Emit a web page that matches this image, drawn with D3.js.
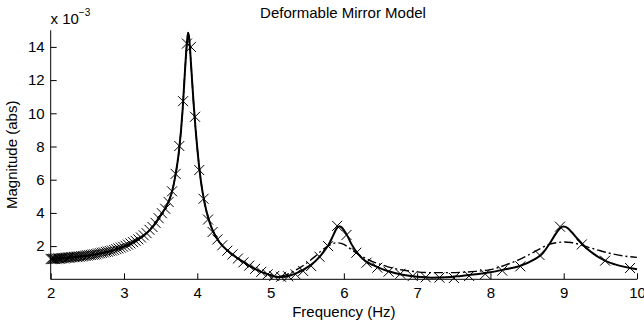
<!DOCTYPE html>
<html>
<head>
<meta charset="utf-8">
<script src="https://cdn.jsdelivr.net/npm/d3@7"></script>
<style>
	body { margin: 0; background: #fff; }
	text { font-family: 'Liberation Sans', Arial, Helvetica, sans-serif; fill: #000; }
</style>
</head>
<body>
<script>
// magnitudes are in units of 1e-3 (axis shows "x 10^-3")

// measured points (x markers)
const freq = [
	2.000, 2.0145, 2.0292, 2.0441, 2.0592, 2.0746, 2.0902, 2.1060, 2.1221, 2.1384,
	2.1549, 2.1718, 2.1889, 2.2062, 2.2238, 2.2418, 2.2600, 2.2785, 2.2973, 2.3165,
	2.3359, 2.3557, 2.3758, 2.3963, 2.4171, 2.4383, 2.4598, 2.4818, 2.5041, 2.5269,
	2.5500, 2.5736, 2.5977, 2.6222, 2.6471, 2.6726, 2.6985, 2.7249, 2.7519, 2.7794,
	2.8074, 2.8360, 2.8652, 2.8951, 2.9255, 2.9566, 2.9884, 3.0208, 3.0540, 3.0879,
	3.1226, 3.1580, 3.1943, 3.2314, 3.2694, 3.3083, 3.3481, 3.3889, 3.4306, 3.4735,
	3.5174, 3.5625, 3.6087, 3.6561, 3.7048, 3.7548, 3.8062, 3.8590, 3.9133, 3.9691,
	4.0266, 4.0857, 4.1466, 4.2094, 4.2741, 4.3408, 4.4096, 4.4806, 4.5539, 4.6297,
	4.7081, 4.7892, 4.8730, 4.9600, 5.0500, 5.1434, 5.2403, 5.3409, 5.4454, 5.5541,
	5.6673, 5.7852, 5.9081, 6.0363, 6.1702, 6.3101, 6.4566, 6.6100, 6.7709, 6.9399,
	7.1174, 7.3044, 7.5013, 7.7092, 7.9290, 8.1616, 8.4083, 8.6704, 8.9493, 9.2469,
	9.5648, 9.9054
];
const measured = [
	1.22, 1.23, 1.22, 1.24, 1.23, 1.25, 1.24, 1.26, 1.25, 1.27,
	1.27, 1.29, 1.28, 1.30, 1.30, 1.31, 1.32, 1.33, 1.33, 1.35,
	1.35, 1.36, 1.37, 1.37, 1.39, 1.40, 1.41, 1.43, 1.44, 1.46,
	1.47, 1.49, 1.50, 1.52, 1.55, 1.57, 1.60, 1.62, 1.65, 1.67,
	1.70, 1.73, 1.77, 1.82, 1.86, 1.91, 1.96, 2.02, 2.09, 2.16,
	2.24, 2.32, 2.41, 2.52, 2.65, 2.78, 2.98, 3.15, 3.40, 3.68,
	3.98, 4.25, 4.66, 5.30, 6.35, 8.03, 10.73, 14.2, 14.0, 9.79,
	6.58, 4.85, 3.60, 2.85, 2.40, 2.05, 1.72, 1.50, 1.25, 1.02,
	0.82, 0.63, 0.45, 0.30, 0.20, 0.15, 0.18, 0.30, 0.50, 0.80,
	1.36, 2.00, 3.22, 2.67, 1.60, 1.00, 0.70, 0.46, 0.33, 0.20,
	0.12, 0.10, 0.08, 0.20, 0.32, 0.52, 0.78, 1.46, 3.17, 2.10,
	1.12, 0.68
];

// solid model
const modelF = [
	2.0, 2.2, 2.4, 2.6, 2.8, 3.0, 3.1, 3.2, 3.3, 3.4, 3.5, 3.6, 3.65, 3.7, 3.75, 3.8,
	3.83, 3.86, 3.875, 3.89, 3.92, 3.95, 4.0, 4.05, 4.1, 4.15, 4.2, 4.3, 4.4, 4.5, 4.6,
	4.7, 4.8, 4.9, 5.0, 5.1, 5.2, 5.3, 5.4, 5.5, 5.6, 5.7, 5.8, 5.85, 5.9, 5.94, 5.98,
	6.05, 6.1, 6.2, 6.3, 6.4, 6.5, 6.6, 6.8, 7.0, 7.2, 7.4, 7.6, 7.8, 8.0, 8.2, 8.4,
	8.6, 8.7, 8.8, 8.9, 8.95, 9.0, 9.05, 9.1, 9.2, 9.3, 9.4, 9.5, 9.6, 9.7, 9.8, 9.9, 10.0
];
const modelV = [
	1.22, 1.29, 1.37, 1.50, 1.68, 1.98, 2.18, 2.42, 2.75, 3.20, 3.85, 4.60, 5.20, 6.20, 7.70, 10.2,
	12.4, 14.3, 14.85, 14.5, 12.6, 10.6, 7.9, 5.9, 4.6, 3.7, 3.05, 2.25, 1.78, 1.42, 1.12,
	0.84, 0.60, 0.40, 0.24, 0.14, 0.16, 0.28, 0.46, 0.72, 1.05, 1.52, 2.15, 2.6, 3.05, 3.2, 3.08,
	2.6, 2.15, 1.5, 1.08, 0.85, 0.66, 0.5, 0.27, 0.15, 0.1, 0.12, 0.2, 0.3, 0.42, 0.6, 0.8,
	1.2, 1.5, 2.1, 2.8, 3.08, 3.18, 3.1, 2.88, 2.38, 1.92, 1.56, 1.27, 1.05, 0.9, 0.78, 0.68, 0.6
];

// dash-dot model
const fitF = [
	2.0, 2.4, 2.8, 3.0, 3.2, 3.4, 3.5, 3.6, 3.65, 3.7, 3.75, 3.8, 3.83, 3.86, 3.875, 3.89,
	3.92, 3.95, 4.0, 4.05, 4.1, 4.15, 4.2, 4.3, 4.4, 4.5, 4.6, 4.7, 4.8, 4.9, 5.0, 5.1,
	5.2, 5.3, 5.4, 5.5, 5.6, 5.7, 5.8, 5.9, 6.0, 6.1, 6.2, 6.3, 6.4, 6.5, 6.6, 6.8, 7.0,
	7.2, 7.4, 7.6, 7.8, 8.0, 8.2, 8.4, 8.6, 8.8, 8.9, 9.0, 9.1, 9.2, 9.3, 9.4, 9.5, 9.6,
	9.7, 9.8, 9.9, 10.0
];
const fitV = [
	1.22, 1.37, 1.68, 1.98, 2.42, 3.2, 3.85, 4.6, 5.2, 6.2, 7.7, 10.2, 12.4, 14.3, 14.85, 14.5,
	12.6, 10.6, 7.9, 5.9, 4.6, 3.7, 3.05, 2.25, 1.78, 1.42, 1.12, 0.84, 0.6, 0.4, 0.25, 0.17,
	0.25, 0.45, 0.7, 1.0, 1.35, 1.75, 2.05, 2.2, 2.1, 1.8, 1.5, 1.25, 1.05, 0.9, 0.75, 0.56, 0.45,
	0.4, 0.4, 0.42, 0.48, 0.58, 0.85, 1.2, 1.65, 2.1, 2.2, 2.25, 2.22, 2.12, 1.98, 1.85, 1.72, 1.6,
	1.5, 1.42, 1.36, 1.32
];

const xTicks = [2, 3, 4, 5, 6, 7, 8, 9, 10];
const yTicks = [2, 4, 6, 8, 10, 12, 14];

const w = 644;
const h = 325;
const plotLeft = 50.7;
const plotRight = 637;
const plotTop = 30.3;
const plotBottom = 279.3;

const svg = d3
	.select('body')
	.append('svg')
	.attr('width', w)
	.attr('height', h);

const xScale = d3.scaleLinear().domain([2, 10]).range([plotLeft, plotRight]);
const yScale = d3.scaleLinear().domain([0, 15]).range([plotBottom, plotTop]);

// axes, matlab style: ticks inside, no box
const xAxis = d3.axisBottom(xScale).tickValues(xTicks).tickSize(-6).tickPadding(8).tickFormat(d3.format('d'));
const yAxis = d3.axisLeft(yScale).tickValues(yTicks).tickSize(-6).tickPadding(6).tickFormat(d3.format('d'));

const gx = svg.append('g').attr('transform', `translate(0,${plotBottom})`).call(xAxis);
const gy = svg.append('g').attr('transform', `translate(${plotLeft},0)`).call(yAxis);

[gx, gy].forEach(g => {
	g.select('.domain').attr('stroke', '#000').attr('stroke-width', 1);
	g.selectAll('.tick line').attr('stroke', '#000').attr('stroke-width', 1);
	g.selectAll('.tick text')
		.style('font-family', "'Liberation Sans', Arial, sans-serif")
		.style('font-size', '15px')
		.attr('fill', '#000');
});
// no outer ticks on the domain lines
gx.select('.domain').attr('d', `M${plotLeft},0H${plotRight}`);
gy.select('.domain').attr('d', `M0,${plotBottom}V${plotTop}`);

const line = d3
	.line()
	.x(d => xScale(d[0]))
	.y(d => yScale(d[1]))
	.curve(d3.curveMonotoneX);

svg
	.append('path')
	.datum(fitF.map((f, i) => [f, fitV[i]]))
	.attr('d', line)
	.attr('fill', 'none')
	.attr('stroke', '#000')
	.attr('stroke-width', 1.4)
	.attr('stroke-dasharray', '9,3,2,3');

svg
	.append('path')
	.datum(modelF.map((f, i) => [f, modelV[i]]))
	.attr('d', line)
	.attr('fill', 'none')
	.attr('stroke', '#000')
	.attr('stroke-width', 2);

svg
	.selectAll('path.mark')
	.data(freq.map((f, i) => [f, measured[i]]))
	.enter()
	.append('path')
	.attr('class', 'mark')
	.attr('transform', d => `translate(${xScale(d[0])},${yScale(d[1])})`)
	.attr('d', 'M-5,-5L5,5M-5,5L5,-5')
	.attr('fill', 'none')
	.attr('stroke', '#000')
	.attr('stroke-width', 1);

// titles
svg
	.append('text')
	.attr('x', 343)
	.attr('y', 18)
	.attr('text-anchor', 'middle')
	.style('font-size', '15px')
	.text('Deformable Mirror Model');

svg
	.append('text')
	.attr('x', (plotLeft + plotRight) / 2)
	.attr('y', 317)
	.attr('text-anchor', 'middle')
	.style('font-size', '15px')
	.text('Frequency (Hz)');

svg
	.append('text')
	.attr('transform', `translate(17,${(plotTop + plotBottom) / 2}) rotate(-90)`)
	.attr('text-anchor', 'middle')
	.style('font-size', '15px')
	.text('Magnitude (abs)');

const mult = svg
	.append('text')
	.attr('x', 50.5)
	.attr('y', 24)
	.style('font-size', '15px');
mult.append('tspan').text('x 10');
mult.append('tspan').attr('dy', -8).style('font-size', '10px').text('\u22123');
</script>
</body>
</html>
